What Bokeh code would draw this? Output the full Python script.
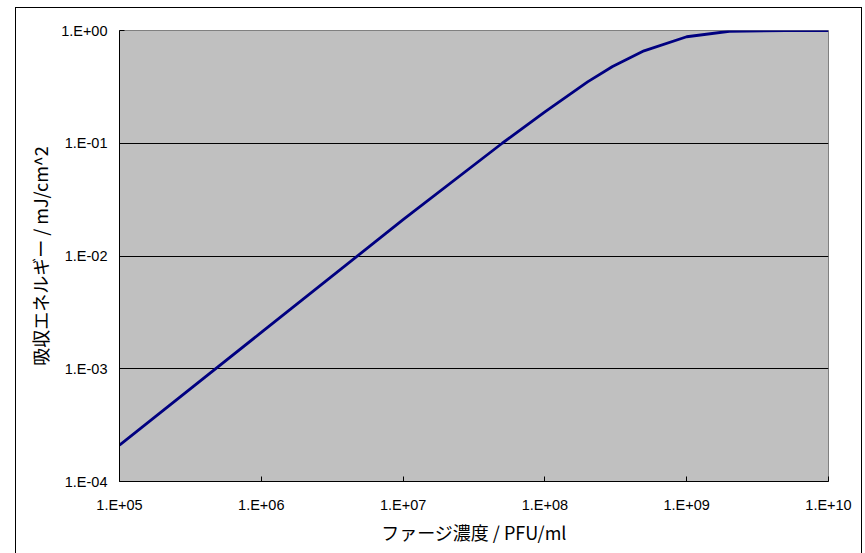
from bokeh.plotting import figure
from bokeh.models import (FixedTicker, CustomJSTickFormatter, Range1d, InlineStyleSheet)
from bokeh.embed import file_html
from bokeh.resources import INLINE

# ---- data ----
phage_conc = [1e5, 1e6, 1e7, 5e7, 1e8, 2e8, 3e8, 5e8, 1e9, 2e9, 5e9, 1e10]
absorbed_energy = [2.1e-4, 2.1e-3, 2.1e-2, 0.10, 0.19, 0.35, 0.48, 0.66, 0.88, 0.985, 1.0, 1.0]

x_ticks = [1e5, 1e6, 1e7, 1e8, 1e9, 1e10]
x_tick_labels = ["1.E+05", "1.E+06", "1.E+07", "1.E+08", "1.E+09", "1.E+10"]
y_ticks = [1e-4, 1e-3, 1e-2, 1e-1, 1e0]
y_tick_labels = ["1.E-04", "1.E-03", "1.E-02", "1.E-01", "1.E+00"]

x_label = "ファージ濃度 / PFU/ml"
y_label = "吸収エネルギー / mJ/cm^2"

LATIN = "Liberation Sans"
JP = "Noto Sans CJK JP"

p = figure(width=865, height=553, x_axis_type="log", y_axis_type="log",
           x_range=Range1d(1e5, 1e10), y_range=Range1d(1e-4, 1.0),
           output_backend="svg", toolbar_location=None,
           min_border_left=119, min_border_right=37,
           min_border_top=30, min_border_bottom=72)

p.background_fill_color = "#C0C0C0"
p.border_fill_color = "white"
p.outline_line_color = "#808080"
p.outline_line_width = 1

fmt_code = """
let best = 0, bd = Infinity;
for (let i = 0; i < tv.length; i++) {
  const d = Math.abs(Math.log10(tv[i]) - Math.log10(tick));
  if (d < bd) { bd = d; best = i; }
}
return tl[best];
"""

xa = p.xaxis[0]
xa.ticker = FixedTicker(ticks=x_ticks, minor_ticks=[])
xa.formatter = CustomJSTickFormatter(args=dict(tv=x_ticks, tl=x_tick_labels), code=fmt_code)
ya = p.yaxis[0]
ya.ticker = FixedTicker(ticks=y_ticks, minor_ticks=[])
ya.formatter = CustomJSTickFormatter(args=dict(tv=y_ticks, tl=y_tick_labels), code=fmt_code)

for ax in (xa, ya):
    ax.axis_line_color = "black"
    ax.axis_line_width = 1
    ax.major_tick_in = 5
    ax.major_tick_out = 0
    ax.major_tick_line_color = "black"
    ax.minor_tick_line_color = None
    ax.major_label_text_font = LATIN
    ax.major_label_text_font_size = "14.5px"
    ax.major_label_text_color = "black"
    ax.axis_label_text_font = JP
    ax.axis_label_text_font_size = "18px"
    ax.axis_label_text_font_style = "normal"
    ax.axis_label_text_color = "black"

xa.axis_label = x_label
ya.axis_label = y_label
xa.major_label_standoff = 15
ya.major_label_standoff = 12
xa.axis_label_standoff = 3
ya.axis_label_standoff = 5

p.xgrid.grid_line_color = None
p.ygrid.ticker = FixedTicker(ticks=y_ticks, minor_ticks=[])
p.ygrid.grid_line_color = "black"
p.ygrid.grid_line_width = 1

p.line(phage_conc, absorbed_energy, line_color="#000080", line_width=2.8)

# outer chart-area border (drawn with CSS around the canvas)
p.stylesheets = [InlineStyleSheet(css="""
:host { position: relative; }
:host::after {
  content: ""; position: absolute; pointer-events: none;
  left: 15px; top: 7px; right: 3px; bottom: -10px;
  border: 1px solid black; z-index: 10;
}
""")]

open("out.html", "w").write(file_html(p, INLINE))
